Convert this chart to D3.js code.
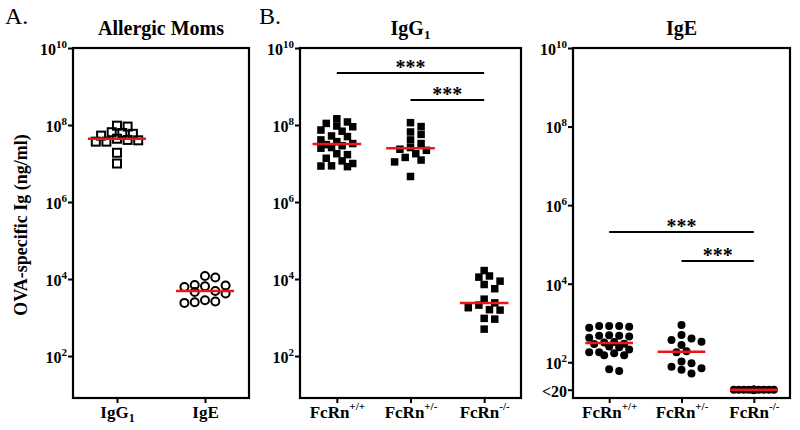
<!DOCTYPE html>
<html><head><meta charset="utf-8">
<script src="https://cdn.jsdelivr.net/npm/d3@7"></script>
<style>
body{margin:0;background:#fff}
svg{display:block}
text{font-family:"Liberation Serif","Times New Roman",serif;fill:#000}
</style>
</head><body>
<svg id="chart" width="800" height="430"></svg>
<script>
// ---------------- DATA ----------------
const momsCategories = ["IgG1", "IgE"];
const momsIgG1 = [9.6e7, 9.1e7, 6.5e7, 6.2e7, 5.9e7, 5.3e7, 4.4e7, 4.1e7, 4.0e7, 3.7e7, 3.7e7, 1.9e7, 1.0e7];
const momsIgE  = [1.2e4, 1.1e4, 7.0e3, 6.8e3, 6.5e3, 6.2e3, 4.9e3, 4.6e3, 4.2e3, 2.8e3, 2.6e3, 2.5e3, 2.4e3];

const fcrnGenotypes = ["+/+", "+/-", "-/-"];
const pupIgG1WT  = [1.45e8, 1.2e8, 1.1e8, 9.4e7, 9.0e7, 7.4e7, 6.9e7, 5.2e7, 5.0e7, 4.1e7, 3.7e7, 3.3e7,
                    3.1e7, 2.9e7, 2.6e7, 2.5e7, 1.8e7, 1.7e7, 1.37e7, 1.17e7, 1.0e7, 8.7e6, 8.6e6, 8.3e6];
const pupIgG1Het = [1.15e8, 9.1e7, 6.6e7, 5.7e7, 4.1e7, 3.3e7, 2.6e7, 2.35e7, 2.2e7, 1.8e7, 1.44e7, 1.23e7, 1.1e7, 4.6e6];
const pupIgG1KO  = [1.66e4, 1.2e4, 1.12e4, 8.8e3, 7.2e3, 5.6e3, 3.0e3, 2.4e3, 2.1e3, 1.8e3, 1.6e3, 1.56e3, 950, 910, 500];

const pupIgEWT  = [840, 840, 840, 800, 760, 490, 470, 470, 450, 420, 330, 320,
                   295, 290, 250, 240, 210, 180, 180, 170, 150, 150, 66, 60];
const pupIgEHet = [890, 495, 400, 370, 335, 276, 190, 180, 104, 94, 77, 70, 64, 52];
const pupIgEKO  = [20, 20, 20, 20, 20, 20, 20, 20, 20, 20, 20, 20, 20, 20, 20]; // below detection (<20)

const yTickExponents = [2, 4, 6, 8, 10];
const igeFloorTick = 20, igeFloorLabel = "<20";
const sigIgG1 = [[0, 2, "***"], [1, 2, "***"]];
const sigIgE  = [[0, 2, "***"], [1, 2, "***"]];

// ---------------- DRAWING ----------------
const svg = d3.select("#chart");
const FONT_TICK = 16, FONT_SUP = 11, FONT_XLAB = 17;
const yTop = 48, yBottom = 398;

function swarm(values, y, cx, dist, step, maxHalf) {
  const pts = values.map(v => ({v, y: y(v)}));
  const order = pts.slice().sort((a, b) => a.y - b.y);
  const kMax = Math.max(0, Math.floor(maxHalf / step));
  const cands = [0];
  for (let k = 1; k <= kMax; k++) cands.push(k * step, -k * step);
  const placed = [];
  for (const p of order) {
    let best = 0, bestScore = -Infinity;
    for (const off of cands) {
      let minD = Infinity;
      for (const q of placed) {
        const d = Math.hypot(q.off - off, q.y - p.y);
        if (d < minD) minD = d;
      }
      if (minD >= dist) { best = off; break; }
      if (minD > bestScore) { bestScore = minD; best = off; }
    }
    p.off = best; placed.push(p);
  }
  pts.forEach(p => p.x = cx + p.off);
  return pts;
}

function supLabel(sel, base, sup, subMode, supSize) {
  sel.append("tspan").text(base);
  sel.append("tspan").attr("font-size", supSize || FONT_SUP)
    .attr("dy", subMode ? 4 : -7).text(sup);
}

function panel(cfg) {
  const g = svg.append("g");
  const x = d3.scalePoint().domain(d3.range(cfg.series.length)).range([cfg.x0, cfg.x1]).padding(0.5);
  const y = d3.scaleLog().domain(cfg.domain).range([yBottom, yTop]);
  const spacing = x.step();

  g.append("rect").attr("x", cfg.x0).attr("y", yTop)
    .attr("width", cfg.x1 - cfg.x0).attr("height", yBottom - yTop)
    .attr("fill", "none").attr("stroke", "#000").attr("stroke-width", 2.2);

  const yTicks = yTickExponents.map(e => Math.pow(10, e)).concat(cfg.extraTick ? [cfg.extraTick] : []);
  const ya = g.append("g").attr("transform", `translate(${cfg.x0},0)`)
    .call(d3.axisLeft(y).tickValues(yTicks).tickSize(5).tickSizeOuter(0).tickFormat(() => ""));
  ya.select(".domain").remove();
  ya.selectAll(".tick line").attr("stroke-width", 2);
  ya.selectAll(".tick text").each(function (d) {
    const t = d3.select(this).attr("font-size", FONT_TICK).attr("font-weight", "bold")
      .attr("x", -6).attr("dy", "0.4em").attr("text-anchor", "end").text(null);
    if (cfg.extraTick && d === cfg.extraTick) t.text(cfg.extraLabel);
    else supLabel(t, "10", String(Math.round(Math.log10(d))), false);
  });

  const xa = g.append("g").attr("transform", `translate(0,${yBottom})`)
    .call(d3.axisBottom(x).tickSize(5).tickSizeOuter(0).tickFormat(() => ""));
  xa.select(".domain").remove();
  xa.selectAll(".tick line").attr("stroke-width", 2);
  xa.selectAll(".tick text").each(function (d) {
    const t = d3.select(this).attr("font-size", FONT_XLAB).attr("font-weight", "bold")
      .attr("y", 20).attr("dy", 0).attr("text-anchor", "middle").text(null);
    cfg.label(t, d);
  });

  cfg.series.forEach((vals, i) => {
    const m = cfg.markers[i];
    const pts = swarm(vals, y, x(i), m.dist, m.step, spacing * m.spread);
    const s = m.size;
    if (m.shape === "square") {
      g.append("g").selectAll("rect").data(pts).join("rect")
        .attr("x", d => d.x - s / 2).attr("y", d => d.y - s / 2)
        .attr("width", s).attr("height", s)
        .attr("fill", m.open ? "none" : "#000")
        .attr("stroke", "#000").attr("stroke-width", m.open ? 2 : 0);
    } else {
      g.append("g").selectAll("circle").data(pts).join("circle")
        .attr("cx", d => d.x).attr("cy", d => d.y).attr("r", s / 2)
        .attr("fill", m.open ? "none" : "#000")
        .attr("stroke", "#000").attr("stroke-width", m.open ? 2 : 0);
    }
  });
  cfg.series.forEach((vals, i) => {
    const med = d3.median(vals);
    g.append("line")
      .attr("x1", x(i) - spacing * 0.33).attr("x2", x(i) + spacing * 0.33)
      .attr("y1", y(med)).attr("y2", y(med))
      .attr("stroke", "#f01414").attr("stroke-width", 2.5);
  });

  (cfg.sig || []).forEach((s, k) => {
    const ly = cfg.sigY[k];
    g.append("line").attr("x1", x(s[0])).attr("x2", x(s[1]))
      .attr("y1", ly).attr("y2", ly).attr("stroke", "#000").attr("stroke-width", 2);
    g.append("text").attr("x", (x(s[0]) + x(s[1])) / 2).attr("y", ly + 1)
      .attr("text-anchor", "middle").attr("font-size", 20).attr("font-weight", "bold").text(s[2]);
  });

  const tt = g.append("text").attr("x", (cfg.x0 + cfg.x1) / 2).attr("y", 35)
    .attr("text-anchor", "middle").attr("font-size", 20).attr("font-weight", "bold");
  cfg.title(tt);
}

const fcrnLabel = (t, i) => {
  t.append("tspan").text("FcRn");
  t.append("tspan").attr("font-size", FONT_SUP).attr("dy", -8).text(fcrnGenotypes[i]);
};
const filledSq = {shape: "square", open: false, size: 7.5, dist: 7.5, step: 5.3, spread: 0.24};
const filledCi = {shape: "circle", open: false, size: 8, dist: 8, step: 5, spread: 0.28};

panel({
  x0: 73, x1: 249, domain: [Math.pow(10, 0.91), 1e10],
  series: [momsIgG1, momsIgE],
  markers: [
    {shape: "square", open: true, size: 8, dist: 8, step: 5.3, spread: 0.3},
    {shape: "circle", open: true, size: 8, dist: 10, step: 10.3, spread: 0.3}
  ],
  label: (t, i) => { if (i === 0) supLabel(t, "IgG", "1", true, 12); else t.append("tspan").text(momsCategories[1]); },
  title: t => t.text("Allergic Moms")
});

panel({
  x0: 300, x1: 521, domain: [Math.pow(10, 0.91), 1e10],
  series: [pupIgG1WT, pupIgG1Het, pupIgG1KO],
  markers: [filledSq, filledSq, filledSq],
  label: fcrnLabel,
  sig: sigIgG1, sigY: [73, 100],
  title: t => supLabel(t, "IgG", "1", true, 13)
});

panel({
  x0: 573, x1: 790, domain: [Math.pow(10, 1.09), 1e10],
  extraTick: igeFloorTick, extraLabel: igeFloorLabel,
  series: [pupIgEWT, pupIgEHet, pupIgEKO],
  markers: [filledCi, filledCi, {shape: "circle", open: false, size: 8, dist: 8, step: 5, spread: 0.3}],
  label: fcrnLabel,
  sig: sigIgE, sigY: [232, 261],
  title: t => t.text("IgE")
});

svg.append("text").attr("x", 5).attr("y", 24).attr("font-size", 24).text("A.");
svg.append("text").attr("x", 259).attr("y", 24).attr("font-size", 24).text("B.");
svg.append("text").attr("transform", "translate(27,225) rotate(-90)")
  .attr("text-anchor", "middle").attr("font-size", 18).attr("font-weight", "bold")
  .text("OVA-specific Ig (ng/ml)");
</script>
</body></html>
